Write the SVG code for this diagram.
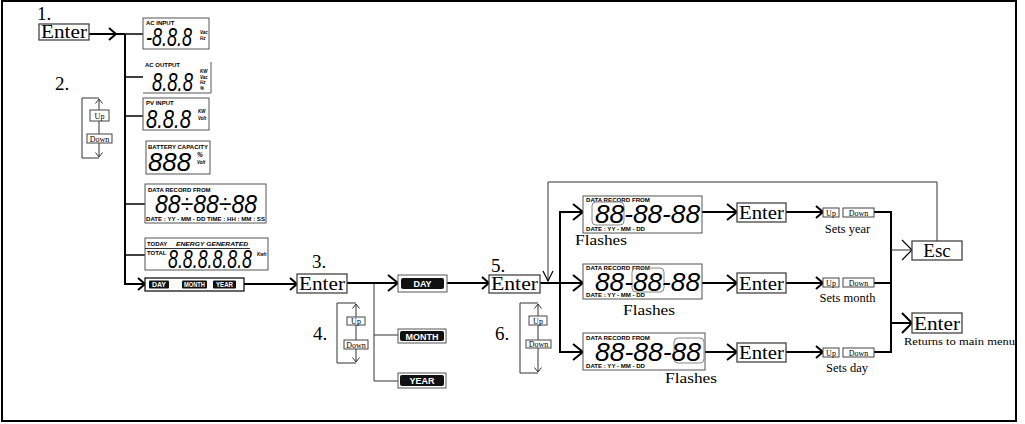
<svg xmlns="http://www.w3.org/2000/svg" width="1025" height="424" viewBox="0 0 1025 424">
<style>
.frame{fill:none;stroke:#000;stroke-width:2}
.ln{fill:none;stroke:#000;stroke-width:2}
.br{fill:none;stroke:#000;stroke-width:1.5}
.thin{fill:none;stroke:#333;stroke-width:1}
.box{fill:#fff;stroke:#444;stroke-width:1.3}
.lcd{fill:#fff;stroke:#555;stroke-width:1}
.hl{fill:none;stroke:#888;stroke-width:1}
.serif{font-family:"Liberation Serif","Times New Roman",serif;fill:#000}
.big{font-size:19px}
.lbl{font-family:"Liberation Sans",Arial,sans-serif;font-weight:bold;font-size:6px;fill:#000}
.unit{font-family:"Liberation Sans",Arial,sans-serif;font-weight:bold;font-style:italic;font-size:4.5px;fill:#000}
.dig{font-family:"Liberation Sans",Arial,sans-serif;font-style:italic;font-size:25px;fill:#000}
.pill{fill:#111}
.pt{font-family:"Liberation Sans",Arial,sans-serif;font-weight:bold;fill:#fff;text-anchor:middle}
.ud{font-family:"Liberation Serif","Times New Roman",serif;font-size:8px;fill:#000;text-anchor:middle}
.udb{fill:#fff;stroke:#444;stroke-width:1}
.mid{text-anchor:middle}
</style>
<defs>
<marker id="ah" viewBox="0 0 12 18" markerWidth="12" markerHeight="18" refX="11" refY="9" orient="auto" markerUnits="userSpaceOnUse" overflow="visible"><path d="M1,1 L11,9 L1,17" fill="none" stroke="#000" stroke-width="2"/></marker>
<marker id="ahS" viewBox="0 0 9 14" markerWidth="9" markerHeight="14" refX="8" refY="7" orient="auto" markerUnits="userSpaceOnUse" overflow="visible"><path d="M1,1 L8,7 L1,13" fill="none" stroke="#000" stroke-width="2"/></marker>
<marker id="ahT" viewBox="0 0 12 22" markerWidth="12" markerHeight="22" refX="11" refY="11" orient="auto" markerUnits="userSpaceOnUse" overflow="visible"><path d="M1,1 L11,11 L1,21" fill="none" stroke="#000" stroke-width="1.2"/></marker>
<marker id="ahB" viewBox="0 0 12 22" markerWidth="12" markerHeight="22" refX="11" refY="11" orient="auto" markerUnits="userSpaceOnUse" overflow="visible"><path d="M1,1 L11,11 L1,21" fill="none" stroke="#000" stroke-width="2"/></marker>
<marker id="ahD" viewBox="0 0 12 12" markerWidth="12" markerHeight="12" refX="11" refY="6" orient="auto" markerUnits="userSpaceOnUse" overflow="visible"><path d="M1,1 L11,6 L1,11" fill="none" stroke="#000" stroke-width="1.2"/></marker>
<marker id="tiny" viewBox="0 0 5 8" markerWidth="5" markerHeight="8" refX="4.5" refY="4" orient="auto" markerUnits="userSpaceOnUse" overflow="visible"><path d="M0,0.5 L4.5,4 L0,7.5" fill="none" stroke="#333" stroke-width="1"/></marker>
</defs>

<rect class="frame" x="2" y="1" width="1014" height="420"/>

<g id="connectors">
<path class="ln" d="M89,34 H125"/>
<path class="ln" d="M89,34 H116" marker-end="url(#ahS)"/>
<path class="br" d="M125,34 H143"/>
<path class="ln" d="M125,34 V284 H145" marker-end="url(#ahS)"/>
<path class="br" d="M125,77 H143"/>
<path class="br" d="M125,116 H143"/>
<path class="br" d="M125,204 H145"/>
<path class="br" d="M125,255 H145"/>
<path class="ln" d="M244,284 H297" marker-end="url(#ahS)"/>
<path class="ln" d="M347,283 H398" marker-end="url(#ah)"/>
<path class="thin" d="M374,283 V381 H398"/>
<path class="thin" d="M374,335 H398"/>
<path class="ln" d="M447,283 H489" marker-end="url(#ahS)"/>
<path class="ln" d="M540,283 H560"/>
<path class="ln" d="M560,283 V212 H583" marker-end="url(#ah)"/>
<path class="ln" d="M560,283 H583" marker-end="url(#ah)"/>
<path class="ln" d="M560,283 V352 H583" marker-end="url(#ah)"/>
<path class="ln" d="M702,212 H737" marker-end="url(#ah)"/>
<path class="ln" d="M702,283 H737" marker-end="url(#ah)"/>
<path class="ln" d="M705,352 H737" marker-end="url(#ah)"/>
<path class="ln" d="M786,212 H823" marker-end="url(#ahS)"/>
<path class="ln" d="M786,283 H823" marker-end="url(#ahS)"/>
<path class="ln" d="M786,352 H823" marker-end="url(#ahS)"/>
<path class="ln" d="M874,212 H891 V352 H874"/>
<path class="ln" d="M874,283 H891"/>
<path class="thin" d="M891,250 H912" marker-end="url(#ahT)"/>
<path class="ln" d="M891,323 H912" marker-end="url(#ahB)"/>
<path class="thin" d="M937,241 V182 H548 V281" marker-end="url(#ahD)"/>
</g>

<g id="step1">
<text class="serif big" x="37" y="20">1.</text>
<rect class="box" x="39" y="24" width="50" height="16"/>
<text class="serif mid" x="64" y="38" font-size="18" textLength="46" lengthAdjust="spacingAndGlyphs">Enter</text>
</g>

<g id="step2">
<text class="serif big" x="55" y="90">2.</text>
<path class="thin" d="M99,98 H82 V158 H99"/>
<path class="thin" d="M99,128 V99" marker-end="url(#tiny)"/>
<path class="thin" d="M99,128 V157" marker-end="url(#tiny)"/>
<rect class="udb" x="90" y="110" width="19" height="11"/>
<text class="ud" x="99.5" y="118.5">Up</text>
<rect class="udb" x="87" y="134" width="25" height="9"/>
<text class="ud" x="99.5" y="141.5">Down</text>
</g>

<g id="ac-input">
<rect class="lcd" x="143" y="18" width="66" height="31"/>
<text class="lbl" x="146" y="25">AC INPUT</text>
<text class="dig" x="146" y="46" textLength="46" lengthAdjust="spacingAndGlyphs">-8.8.8</text>
<text class="unit"><tspan x="200" y="34">Vac</tspan><tspan x="200" y="40">Hz</tspan></text>
</g>

<g id="ac-output">
<path class="lcd" d="M143,93 H211 V62" fill="none"/>
<text class="lbl" x="145" y="67">AC OUTPUT</text>
<text class="dig" x="152" y="91" textLength="41" lengthAdjust="spacingAndGlyphs">8.8.8</text>
<text class="unit"><tspan x="200" y="73">KW</tspan><tspan x="200" y="78.5">Vac</tspan><tspan x="200" y="84">Hz</tspan><tspan x="200" y="89.5">%</tspan></text>
</g>

<g id="pv-input">
<rect class="lcd" x="143" y="98" width="66" height="32"/>
<text class="lbl" x="146" y="105">PV INPUT</text>
<text class="dig" x="146" y="128" textLength="45" lengthAdjust="spacingAndGlyphs">8.8.8</text>
<text class="unit"><tspan x="198" y="113">KW</tspan><tspan x="198" y="120">Volt</tspan></text>
</g>

<g id="battery">
<rect class="lcd" x="146" y="141" width="64" height="33"/>
<text class="lbl" x="148" y="149" textLength="60" lengthAdjust="spacingAndGlyphs">BATTERY  CAPACITY</text>
<text class="dig" x="148" y="171" textLength="43" lengthAdjust="spacingAndGlyphs">888</text>
<text class="unit"><tspan x="197" y="157" font-size="6.5">%</tspan><tspan x="197" y="164">Volt</tspan></text>
</g>

<g id="data-record">
<rect class="lcd" x="145" y="184" width="121" height="39"/>
<text class="lbl" x="148" y="192">DATA RECORD FROM</text>
<text class="dig" x="155" y="213" font-size="25" textLength="102" lengthAdjust="spacingAndGlyphs">88÷88÷88</text>
<text class="lbl" x="146" y="221" textLength="119" lengthAdjust="spacingAndGlyphs">DATE : YY - MM - DD  TIME : HH : MM : SS</text>
</g>

<g id="energy">
<rect class="lcd" x="145" y="238" width="123" height="32"/>
<text class="lbl" x="147" y="246" font-size="7">TODAY</text>
<text class="lbl" x="176" y="246" font-size="7" font-style="italic" textLength="72" lengthAdjust="spacingAndGlyphs">ENERGY GENERATED</text>
<path d="M145,248.5 H250" stroke="#000" stroke-width="0.8"/>
<text class="lbl" x="147" y="255">TOTAL</text>
<text class="dig" x="168" y="268" font-size="24" textLength="84" lengthAdjust="spacingAndGlyphs">8.8.8.8.8.8</text>
<text class="unit" x="257" y="256">Kwh</text>
</g>

<g id="day-month-year">
<rect fill="#fff" stroke="#000" stroke-width="1.2" x="145" y="278" width="99" height="13"/>
<rect class="pill" x="149" y="280.5" width="20" height="8" rx="1"/>
<text class="pt" x="159" y="287.2" font-size="7" textLength="14" lengthAdjust="spacingAndGlyphs">DAY</text>
<rect class="pill" x="182" y="280.5" width="25" height="8" rx="1"/>
<text class="pt" x="194.5" y="287.2" font-size="7" textLength="21" lengthAdjust="spacingAndGlyphs">MONTH</text>
<rect class="pill" x="213" y="280.5" width="23" height="8" rx="1"/>
<text class="pt" x="224.5" y="287.2" font-size="7" textLength="17" lengthAdjust="spacingAndGlyphs">YEAR</text>
</g>

<g id="step3">
<text class="serif big" x="312" y="268">3.</text>
<rect class="box" x="297" y="274" width="50" height="19"/>
<text class="serif mid" x="322" y="290" font-size="19" textLength="46" lengthAdjust="spacingAndGlyphs">Enter</text>
</g>

<g id="step4">
<text class="serif big" x="313" y="340">4.</text>
<path class="thin" d="M356,303 H337 V363 H356"/>
<path class="thin" d="M356,333 V304" marker-end="url(#tiny)"/>
<path class="thin" d="M356,333 V362" marker-end="url(#tiny)"/>
<rect class="udb" x="347" y="317" width="18" height="8"/>
<text class="ud" x="356" y="324">Up</text>
<rect class="udb" x="344" y="340" width="24" height="9"/>
<text class="ud" x="356" y="347.5">Down</text>
</g>

<g id="opt-day">
<rect class="lcd" x="398" y="275" width="49" height="17"/>
<rect class="pill" x="401" y="278" width="43" height="11" rx="2"/>
<text class="pt" x="422.5" y="287" font-size="9">DAY</text>
</g>
<g id="opt-month">
<rect class="lcd" x="398" y="329" width="48" height="14"/>
<rect class="pill" x="400" y="331" width="44" height="10" rx="2"/>
<text class="pt" x="422" y="339.5" font-size="9">MONTH</text>
</g>
<g id="opt-year">
<rect class="lcd" x="398" y="373" width="48" height="15"/>
<rect class="pill" x="400" y="375" width="44" height="11" rx="2"/>
<text class="pt" x="422" y="384" font-size="9">YEAR</text>
</g>

<g id="step5">
<text class="serif big" x="491" y="272">5.</text>
<rect class="box" x="489" y="275" width="51" height="18"/>
<text class="serif mid" x="514.5" y="290" font-size="19" textLength="47" lengthAdjust="spacingAndGlyphs">Enter</text>
</g>

<g id="step6">
<text class="serif big" x="495" y="340">6.</text>
<path class="thin" d="M538,303 H520 V373 H538"/>
<path class="thin" d="M538,338 V304" marker-end="url(#tiny)"/>
<path class="thin" d="M538,338 V372" marker-end="url(#tiny)"/>
<rect class="udb" x="529" y="316" width="18" height="9"/>
<text class="ud" x="538" y="323.5">Up</text>
<rect class="udb" x="526" y="340" width="25" height="8"/>
<text class="ud" x="538.5" y="347">Down</text>
</g>

<g id="rec-year">
<rect class="lcd" x="583" y="196" width="119" height="37"/>
<text class="lbl" x="586" y="202" textLength="64" lengthAdjust="spacingAndGlyphs">DATA RECORD FROM</text>
<rect class="hl" x="592" y="202" width="32" height="23" rx="4"/>
<text class="dig" x="595" y="223" font-size="25" textLength="105" lengthAdjust="spacingAndGlyphs">88-88-88</text>
<text class="lbl" x="586" y="231" textLength="59" lengthAdjust="spacingAndGlyphs">DATE : YY - MM - DD</text>
<text class="serif" x="575" y="245" font-size="15" textLength="52" lengthAdjust="spacingAndGlyphs">Flashes</text>
</g>

<g id="rec-month">
<rect class="lcd" x="583" y="264" width="119" height="35"/>
<text class="lbl" x="586" y="270" textLength="64" lengthAdjust="spacingAndGlyphs">DATA RECORD FROM</text>
<rect class="hl" x="632" y="268" width="32" height="24" rx="4"/>
<text class="dig" x="595" y="291" font-size="25" textLength="105" lengthAdjust="spacingAndGlyphs">88-88-88</text>
<text class="lbl" x="586" y="297" textLength="59" lengthAdjust="spacingAndGlyphs">DATE : YY - MM - DD</text>
<text class="serif" x="623" y="315" font-size="15" textLength="52" lengthAdjust="spacingAndGlyphs">Flashes</text>
</g>

<g id="rec-day">
<rect class="lcd" x="583" y="333" width="122" height="37"/>
<text class="lbl" x="586" y="340" textLength="64" lengthAdjust="spacingAndGlyphs">DATA RECORD FROM</text>
<rect class="hl" x="674" y="338" width="30" height="25" rx="4"/>
<text class="dig" x="595" y="361" font-size="25" textLength="106" lengthAdjust="spacingAndGlyphs">88-88-88</text>
<text class="lbl" x="586" y="368" textLength="59" lengthAdjust="spacingAndGlyphs">DATE : YY - MM - DD</text>
<text class="serif" x="665" y="383" font-size="15" textLength="52" lengthAdjust="spacingAndGlyphs">Flashes</text>
</g>

<g id="enter-year">
<rect class="box" x="737" y="203" width="49" height="19"/>
<text class="serif mid" x="761.5" y="219" font-size="19" textLength="45" lengthAdjust="spacingAndGlyphs">Enter</text>
</g>
<g id="enter-month">
<rect class="box" x="737" y="273" width="49" height="20"/>
<text class="serif mid" x="761.5" y="289.5" font-size="19" textLength="45" lengthAdjust="spacingAndGlyphs">Enter</text>
</g>
<g id="enter-day">
<rect class="box" x="737" y="343" width="49" height="19"/>
<text class="serif mid" x="761.5" y="359" font-size="19" textLength="45" lengthAdjust="spacingAndGlyphs">Enter</text>
</g>

<g id="set-year">
<rect class="udb" x="823" y="208" width="16" height="9"/>
<text class="ud" x="831" y="215.5" font-size="9.5">Up</text>
<rect class="udb" x="843" y="208" width="31" height="9"/>
<text class="ud" x="858.5" y="215.5" font-size="9.5">Down</text>
<text class="serif mid" x="847.5" y="233" font-size="12.5">Sets year</text>
</g>
<g id="set-month">
<rect class="udb" x="823" y="278" width="16" height="9"/>
<text class="ud" x="831" y="285.5" font-size="9.5">Up</text>
<rect class="udb" x="843" y="278" width="31" height="9"/>
<text class="ud" x="858.5" y="285.5" font-size="9.5">Down</text>
<text class="serif mid" x="847.5" y="302" font-size="12.5">Sets month</text>
</g>
<g id="set-day">
<rect class="udb" x="823" y="348" width="16" height="9"/>
<text class="ud" x="831" y="355.5" font-size="9.5">Up</text>
<rect class="udb" x="843" y="348" width="31" height="9"/>
<text class="ud" x="858.5" y="355.5" font-size="9.5">Down</text>
<text class="serif mid" x="847" y="372" font-size="12.5">Sets day</text>
</g>

<g id="esc">
<rect class="box" x="912" y="241" width="50" height="19"/>
<text class="serif mid" x="937" y="257" font-size="19">Esc</text>
</g>

<g id="enter-return">
<rect class="box" x="912" y="313" width="50" height="20"/>
<text class="serif mid" x="937" y="330" font-size="19" textLength="46" lengthAdjust="spacingAndGlyphs">Enter</text>
<text class="serif" x="904" y="345" font-size="11" textLength="111" lengthAdjust="spacingAndGlyphs">Returns to main menu</text>
</g>
</svg>
